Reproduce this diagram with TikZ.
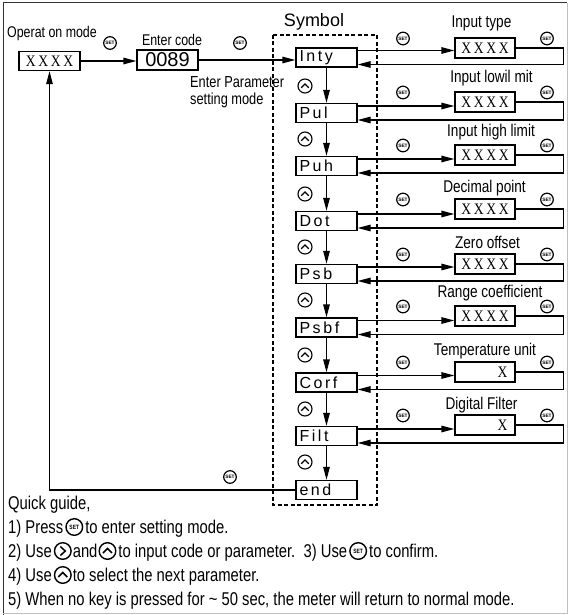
\documentclass[tikz,border=0pt]{standalone}
\usepackage{fontspec}
\setmainfont{Liberation Sans}
\newfontfamily\narrowf{Liberation Sans}[FakeStretch=0.8]
\newfontfamily\serf{Liberation Serif}[FakeStretch=0.85]
\newfontfamily\spacedf{Liberation Sans}[LetterSpace=16]
\usetikzlibrary{arrows.meta,calc}
\newcommand{\isk}{\tikz[x=1pt,y=1pt,baseline=-6pt]{\draw[line width=1.4pt] (0,0) circle (8.3); \node[inner sep=0,anchor=center,font=\fontsize{6.2}{6}\selectfont\bfseries] (iskt) at (0,0) {SET};}}
\newcommand{\irk}{\tikz[x=1pt,y=1pt,baseline=-6pt]{\draw[line width=1.4pt] (0,0) circle (8.3); \draw[line width=1.5pt] (-2.5,4.5) -- (2.5,0) -- (-2.5,-4.5);}}
\newcommand{\iuk}{\tikz[x=1pt,y=1pt,baseline=-6pt]{\draw[line width=1.4pt] (0,0) circle (8.3); \draw[line width=1.5pt] (-4.5,-2) -- (0,2.5) -- (4.5,-2);}}
\begin{document}
\begin{tikzpicture}[x=1pt,y=-1pt,
  lbl/.style={inner sep=0, font=\narrowf\fontsize{17}{17}\selectfont},
  slbl/.style={inner sep=0, font=\narrowf\fontsize{15.5}{17}\selectfont},
  guide/.style={inner sep=0, anchor=base west, font=\narrowf\fontsize{18.5}{24}\selectfont},
  symbox/.style={draw, line width=1.3pt, minimum width=61pt, minimum height=19pt, inner sep=0, inner xsep=3.5pt, text width=54pt, align=left, font=\spacedf\fontsize{16}{16}\selectfont},
  valbox/.style={draw, line width=1.3pt, minimum width=60pt, minimum height=20pt, inner sep=0, font=\serf\fontsize{16}{16}\selectfont},
  conn/.style={line width=1.3pt},
  arr/.style={line width=1.3pt, -{Triangle[length=13pt,width=6.5pt]}},
  setkey/.pic={\draw[line width=1.2pt, fill=white] (0,0) circle (6.3); \node[inner sep=0, anchor=center, font=\fontsize{4.8}{4}\selectfont\bfseries] (-t) at (0,0) {SET};},
  upkey/.pic={\draw[line width=1.1pt] (0,0) circle (7); \draw[line width=1.2pt] (-3.8,1.8) -- (0,-2) -- (3.8,1.8);}
]
\useasboundingbox (0,0) rectangle (573,615);
% frame
\draw[line width=1pt, black!80] (3,615) -- (3,3) -- (567,3);
\draw[line width=1pt, black!25] (567,3) -- (567,613) -- (3,613);

% left part
\node[slbl] (opm) at (52,33) {Operat on mode};
\node[valbox, minimum width=61pt, minimum height=19pt] (x0) at (49.5,61) {X\,X\,X\,X};
\pic (k0) at (110,43) {setkey};
\node[slbl] (ec) at (172,40) {Enter code};
\node[draw, line width=1.3pt, minimum width=61pt, minimum height=20pt, inner sep=0, font=\fontsize{20}{20}\selectfont] (code) at (167.5,60) {0089};
\pic (k1) at (240,43) {setkey};
\node[slbl, anchor=north west, align=left, font=\narrowf\fontsize{16}{17}\selectfont] (epm) at (190,76) {Enter Parameter\\setting mode};

% symbol column
\node[inner sep=0, font=\fontsize{18}{18}\selectfont] (symt) at (314,22) {Symbol};
\draw[line width=1.8pt, dash pattern=on 4pt off 2.5pt] (273,35) rectangle (377,505);
\foreach \n/\t/\y in {1/Inty/57.5, 2/Pul/113, 3/Puh/166, 4/Dot/221, 5/Psb/274, 6/Psbf/327.5, 7/Corf/382.5, 8/Filt/436, 9/end/490}
  \node[symbox, fill=white] (s\n) at (326.5,\y) {\t};
\foreach \a/\b in {1/2,2/3,3/4,4/5,5/6,6/7,7/8,8/9}
  \draw[arr] (s\a.south) -- (s\b.north);
\foreach \y in {86,139,194,247,300,355,409,462}
  \pic at (305,\y) {upkey};

% value boxes
\foreach \n/\y in {1/48, 2/102, 3/155, 4/209, 5/264, 6/316}
  \node[valbox] (v\n) at (485,\y) {X\,X\,X\,X};
\node[valbox] (v7) at (485,372) {};
\node[valbox] (v8) at (485,425) {};
\node[inner sep=0, font=\serf\fontsize{16}{16}\selectfont, anchor=east] (v7t) at ([xshift=-8pt]v7.east) {X};
\node[inner sep=0, font=\serf\fontsize{16}{16}\selectfont, anchor=east] (v8t) at ([xshift=-8pt]v8.east) {X};

\node[lbl] (l1) at (481.5,23) {Input type};
\node[lbl] (l2) at (491.5,78) {Input lowil mit};
\node[lbl] (l3) at (491,132) {Input high limit};
\node[lbl] (l4) at (484.5,188) {Decimal point};
\node[lbl] (l5) at (487.5,242) {Zero offset};
\node[lbl] (l6) at (490,293) {Range coefficient};
\node[lbl] (l7) at (485,351) {Temperature unit};
\node[lbl] (l8) at (481.5,405) {Digital Filter};

\foreach \n/\y in {1/48, 2/102, 3/155, 4/209, 5/264, 6/316, 7/372, 8/425} {
  \draw[arr] ([yshift=7pt]s\n.east) -- ([yshift=7pt]s\n.east -| v\n.west);
  \draw[arr] (v\n.east) -- ++(48,0) |- ([yshift=-7pt]s\n.east);
  \pic at (403,\y-9.5) {setkey};
  \pic at (547,\y-9.5) {setkey};
}

% top connectors
\draw[arr] (x0.east) -- (x0.east -| code.west);
\draw[arr] (code.east) -- (code.east -| s1.west);
\draw[arr] (s9.west) -- (s9.west -| x0.south) -- (x0.south);
\pic (k2) at (230,477) {setkey};

% quick guide
\node[guide] (q0) at (8,509) {Quick guide,};
\node[guide] (q1) at (8,533) {1) Press\kern2pt\isk\kern2pt to enter setting mode.};
\node[guide] (q2) at (8,557) {2) Use\kern2pt\irk\kern1pt and\kern1pt\iuk\kern2pt to input code or parameter.\ \ 3) Use\kern2pt\isk\kern2pt to confirm.};
\node[guide] (q4) at (8,581) {4) Use\kern2pt\iuk\kern1pt to select the next parameter.};
\node[guide] (q5) at (8,605) {5) When no key is pressed for \textasciitilde\ 50 sec, the meter will return to normal mode.};
\end{tikzpicture}
\end{document}
